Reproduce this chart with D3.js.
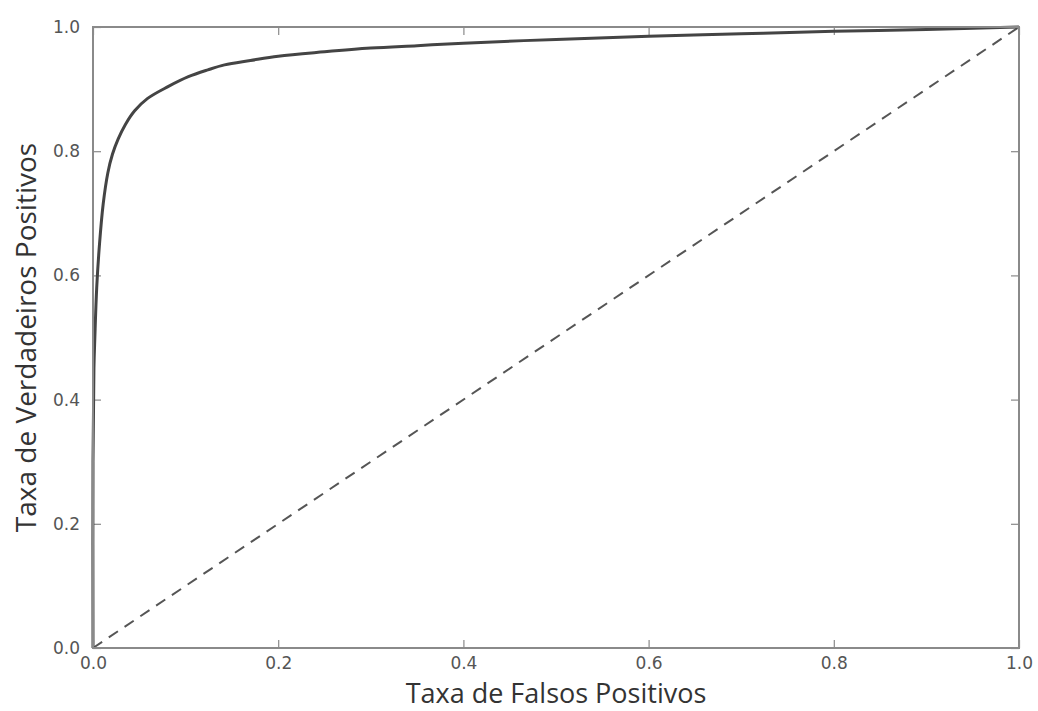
<!DOCTYPE html>
<html>
<head>
<meta charset="utf-8">
<script src="https://cdn.jsdelivr.net/npm/d3@7"></script>
<style>
  html, body { margin: 0; padding: 0; background: #fff; }
  svg { display: block; }
</style>
</head>
<body>
<div id="chart"></div>
<script>
// ROC curve
const fpr = [0, 0, 0.001, 0.002, 0.004, 0.007, 0.011, 0.016, 0.021, 0.027, 0.035, 0.045, 0.059, 0.081, 0.103, 0.124, 0.142, 0.170, 0.200, 0.250, 0.300, 0.350, 0.400, 0.500, 0.600, 0.700, 0.800, 0.900, 1.0];
const tpr = [0, 0.30, 0.45, 0.50, 0.58, 0.65, 0.715, 0.765, 0.795, 0.819, 0.843, 0.865, 0.885, 0.904, 0.920, 0.931, 0.939, 0.946, 0.953, 0.960, 0.966, 0.970, 0.974, 0.980, 0.985, 0.989, 0.993, 0.996, 1.0];
const chance = [0, 1];
const tickVals = [0, 0.2, 0.4, 0.6, 0.8, 1.0];
const xLabel = 'Taxa de Falsos Positivos';
const yLabel = 'Taxa de Verdadeiros Positivos';

const W = 1038, H = 711;
const margin = { top: 27, right: 19, bottom: 63, left: 93 };
const w = W - margin.left - margin.right;
const h = H - margin.top - margin.bottom;

const svg = d3.select('#chart').append('svg').attr('width', W).attr('height', H);
const g = svg.append('g').attr('transform', `translate(${margin.left},${margin.top})`);

const x = d3.scaleLinear().domain([0, 1]).range([0, w]);
const y = d3.scaleLinear().domain([0, 1]).range([h, 0]);

const axisColor = '#8a8a8a';
const fmt = d3.format('.1f');

function styleAxis(sel, showText) {
  sel.select('.domain').remove();
  sel.selectAll('line').attr('stroke', axisColor).attr('stroke-width', 1.2);
  if (showText) {
    sel.selectAll('text').style('font-family', '"DejaVu Sans", sans-serif')
      .style('font-size', '17px').style('fill', '#555');
  } else {
    sel.selectAll('text').remove();
  }
}

// inward ticks on all four sides
g.append('g').attr('transform', `translate(0,${h})`)
  .call(d3.axisBottom(x).tickValues(tickVals).tickSize(-8).tickPadding(9).tickFormat(fmt))
  .call(s => styleAxis(s, true));
g.append('g')
  .call(d3.axisTop(x).tickValues(tickVals).tickSize(-8).tickFormat(''))
  .call(s => styleAxis(s, false));
g.append('g')
  .call(d3.axisLeft(y).tickValues(tickVals).tickSize(-8).tickPadding(13).tickFormat(fmt))
  .call(s => styleAxis(s, true));
g.append('g').attr('transform', `translate(${w},0)`)
  .call(d3.axisRight(y).tickValues(tickVals).tickSize(-8).tickFormat(''))
  .call(s => styleAxis(s, false));

// chance diagonal
g.append('line')
  .attr('x1', x(chance[0])).attr('y1', y(chance[0]))
  .attr('x2', x(chance[1])).attr('y2', y(chance[1]))
  .attr('stroke', '#555').attr('stroke-width', 2).attr('stroke-dasharray', '11,8');

// ROC curve
const rocLine = d3.line().x((d, i) => x(fpr[i])).y((d, i) => y(tpr[i])).curve(d3.curveCatmullRom.alpha(0.5));
g.append('path').datum(fpr)
  .attr('d', rocLine)
  .attr('fill', 'none').attr('stroke', '#444').attr('stroke-width', 3).attr('stroke-linejoin', 'round');

// frame
g.append('rect').attr('width', w).attr('height', h)
  .attr('fill', 'none').attr('stroke', axisColor).attr('stroke-width', 2);

// axis titles
svg.append('text').attr('x', margin.left + w / 2).attr('y', 703)
  .attr('text-anchor', 'middle')
  .style('font-family', '"Open Sans", sans-serif').style('font-size', '27px').style('fill', '#333')
  .text(xLabel);
svg.append('text')
  .attr('transform', `translate(36,${margin.top + h / 2}) rotate(-90)`)
  .attr('text-anchor', 'middle')
  .style('font-family', '"Open Sans", sans-serif').style('font-size', '28px').style('fill', '#333')
  .text(yLabel);
</script>
</body>
</html>
